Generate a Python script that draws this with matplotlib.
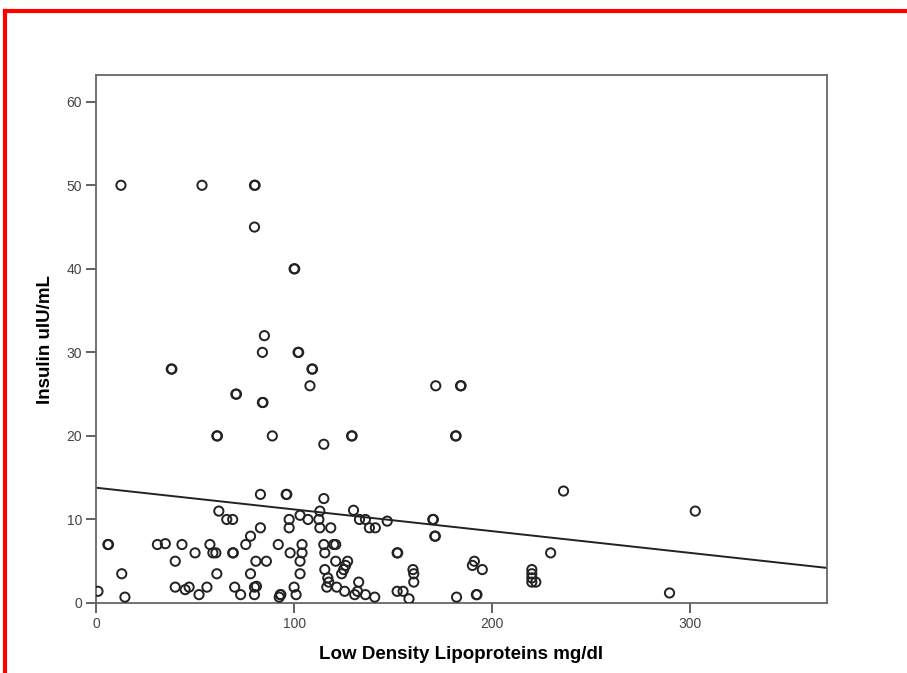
import numpy as np
import matplotlib.pyplot as plt
from matplotlib.lines import Line2D

# LDL (mg/dl) vs insulin (uIU/mL)
ldl = [1, 6, 12.6, 13, 14.6, 31, 35, 38, 40, 40, 43.4, 45, 47, 50, 52, 53.5, 56, 57.5,
       59, 60.5, 61, 61, 62, 66, 69, 69, 70, 70.6, 73, 75.6, 78, 78, 80, 80, 80, 80,
       80.7, 81, 83, 83, 84, 84, 85, 86, 89, 92, 93, 96, 97.5, 97.5, 98, 100, 100,
       101, 102, 103, 103, 104, 104, 103, 107, 108, 109, 112.5, 113, 113, 115, 115,
       115, 115.5, 115.5, 116.5, 117, 117.5, 118.5, 120, 121, 121, 121.5, 124, 125,
       126, 127, 125.5, 129, 130, 130.6, 132, 132.6, 133, 136, 136, 138, 141, 140.7,
       147, 152, 152, 155, 158, 160, 160.4, 160.4, 170, 171, 171.5, 181.5, 182, 184,
       190, 191, 192, 195, 220, 220, 220, 220, 222, 229.5, 236, 289.5, 302.5,
       # repeated observations (the heavier rings)
       38.3, 61.3, 69.3, 70.9, 80.3, 84.3, 93.3, 96.3, 100.3, 102.3, 109.3, 129.3,
       152.3, 170.3, 171.3, 181.8, 184.3, 192.3, 6.3, 92.5]
insulin = [1.4, 7, 50, 3.5, 0.7, 7, 7.1, 28, 5, 1.9, 7, 1.6, 1.9, 6, 1, 50, 1.9, 7,
           6, 6, 20, 3.5, 11, 10, 10, 6, 1.9, 25, 1, 7, 3.5, 8, 50, 45, 1.9, 1,
           5, 2, 9, 13, 24, 30, 32, 5, 20, 7, 1, 13, 9, 10, 6, 1.9, 40,
           1, 30, 3.5, 5, 7, 6, 10.5, 10, 26, 28, 10, 11, 9, 19, 12.5,
           7, 6, 4, 1.9, 3, 2.5, 9, 7, 5, 7, 1.9, 3.5, 4,
           4.5, 5, 1.4, 20, 11.1, 1, 1.4, 2.5, 10, 10, 1, 9, 9, 0.7,
           9.8, 6, 1.4, 1.4, 0.5, 4, 3.5, 2.5, 10, 8, 26, 20, 0.7, 26,
           4.5, 5, 1, 4, 4, 3.5, 3, 2.5, 2.5, 6, 13.4, 1.2, 11,
           28, 20, 6, 25, 50, 24, 1, 13, 40, 30, 28, 20,
           6, 10, 8, 20, 26, 1, 7, 0.7]

# fit line as drawn
fit_intercept = 13.8
fit_slope = (4.2 - 13.8) / 369

plt.rcParams['font.family'] = ['Liberation Sans', 'DejaVu Sans']

fig = plt.figure(figsize=(9.07, 6.73), dpi=100)
ax = fig.add_axes([96/907, 70/673, 731/907, 528/673])

ax.scatter(ldl, insulin, s=44, facecolors='none', edgecolors='#222222', linewidths=1.4, zorder=3)
xs = np.array([0, 369])
ax.plot(xs, fit_intercept + fit_slope * xs, color='#222222', lw=1.4)

ax.set_xlim(0, 369)
ax.set_ylim(0, 63.2)
ax.set_xticks([0, 100, 200, 300])
ax.set_yticks([0, 10, 20, 30, 40, 50, 60])
ax.tick_params(colors='#555555', labelcolor='#444444', labelsize=10, length=7, width=1.3, pad=3)
for s in ax.spines.values():
    s.set_color('#666666')
    s.set_linewidth(1.3)

ax.set_xlabel('Low Density Lipoproteins mg/dl', fontsize=13.5, fontweight='bold', labelpad=11)
ax.set_ylabel('Insulin uIU/mL', fontsize=13.5, fontweight='bold', labelpad=9)

# red frame at top and left
fig.add_artist(Line2D([5/907, 1], [1 - 11/673, 1 - 11/673], color='red', lw=3, transform=fig.transFigure))
fig.add_artist(Line2D([5/907, 5/907], [0, 1 - 11/673], color='red', lw=3, transform=fig.transFigure))

fig.savefig('out.png', dpi=100)
